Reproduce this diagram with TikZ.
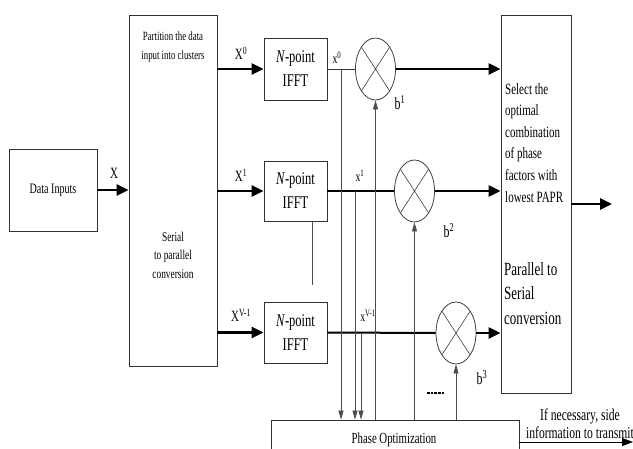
\documentclass[tikz,border=0pt]{standalone}
\usepackage{fontspec}
\setmainfont{Liberation Serif}[FakeStretch=0.7]
\usetikzlibrary{arrows.meta,shapes.geometric}
\begin{document}
\begin{tikzpicture}[x=1pt,y=-1pt,
  box/.style={draw=black!80, line width=0.8pt, inner sep=0pt},
  mult/.style={draw=black!75, line width=0.8pt, ellipse, minimum width=40pt, minimum height=62pt, inner sep=0pt,
    path picture={\draw[black!75,line width=0.6pt] (path picture bounding box.north west) -- (path picture bounding box.south east)
      (path picture bounding box.north east) -- (path picture bounding box.south west);}},
  thickarrow/.style={line width=2.8pt, -{Triangle[length=12pt,width=11pt]}},
  thinline/.style={draw=black!70, line width=0.7pt},
  thinarrow/.style={thinline, -{Triangle[length=9pt,width=5pt]}},
  lbl/.style={inner sep=0pt},
]
\clip (0,0) rectangle (633,448);
\fill[white] (0,0) rectangle (633,448);

% boxes
\node[box, minimum width=88pt, minimum height=82pt, font=\fontsize{14.4}{16}\selectfont] (data) at (53,190) {Data Inputs};
\node[box, minimum width=88pt, minimum height=351pt] (part) at (173,190.5) {};
\node[lbl, align=center, font=\fontsize{12.6}{19}\selectfont] (partt) at (173,47) {Partition the data\\input into clusters};
\node[lbl, align=center, font=\fontsize{13.4}{18.5}\selectfont] (sert) at (173,255) {Serial\\to parallel\\conversion};

\node[box, minimum width=63pt, minimum height=62pt, align=center, font=\fontsize{17.9}{24}\selectfont] (f1) at (295.5,69) {\textit{N}-point\\IFFT};
\node[box, minimum width=63pt, minimum height=60pt, align=center, font=\fontsize{17.9}{24}\selectfont] (f2) at (295.5,191) {\textit{N}-point\\IFFT};
\node[box, minimum width=63pt, minimum height=61pt, align=center, font=\fontsize{17.9}{24}\selectfont] (f3) at (295.5,332.5) {\textit{N}-point\\IFFT};

\node[mult] (m1) at (375.5,69) {};
\node[mult] (m2) at (414.5,191) {};
\node[mult] (m3) at (456,333) {};

\node[box, minimum width=70pt, minimum height=378pt] (sel) at (536,204) {};
\node[lbl, anchor=north west, align=left, font=\fontsize{15.7}{21.6}\selectfont] (selt) at (505,83) {Select the\\optimal\\combination\\of phase\\factors with\\lowest PAPR};
\node[lbl, anchor=north west, align=left, font=\fontsize{18.6}{24.5}\selectfont] (pst) at (504,262) {Parallel to\\Serial\\conversion};

\node[box, minimum width=248pt, minimum height=50pt] (ph) at (395,445) {};
\node[lbl, anchor=base, font=\fontsize{15.4}{18}\selectfont] (pht) at (394,443.5) {Phase Optimization};

% labels
\node[lbl, font=\fontsize{15.7}{18}\selectfont] (lx) at (114,173) {X};
\node[lbl, font=\fontsize{15.7}{18}\selectfont] (lx0) at (241,53) {X\textsuperscript{0}};
\node[lbl, font=\fontsize{15.7}{18}\selectfont] (lx1) at (241,175) {X\textsuperscript{1}};
\node[lbl, font=\fontsize{15.7}{18}\selectfont] (lx2) at (241,315) {X\textsuperscript{V-1}};
\node[lbl, font=\fontsize{14}{16}\selectfont] (sx0) at (337,58) {x\textsuperscript{0}};
\node[lbl, font=\fontsize{14}{16}\selectfont] (sx1) at (360,176) {x\textsuperscript{1}};
\node[lbl, font=\fontsize{14}{16}\selectfont] (sx2) at (368,316) {x\textsuperscript{V-1}};
\node[lbl, font=\fontsize{17}{18}\selectfont] (b1) at (400,103) {b\textsuperscript{1}};
\node[lbl, font=\fontsize{17}{18}\selectfont] (b2) at (449,231) {b\textsuperscript{2}};
\node[lbl, font=\fontsize{17}{18}\selectfont] (b3) at (482,378) {b\textsuperscript{3}};
\node[lbl, align=center, font=\fontsize{16.6}{18}\selectfont] (sidet) at (580,424) {If necessary, side\\information to transmit};

% thick arrows
\draw[thickarrow] (data.east) -- (data.east -| part.west);
\draw[thickarrow] (part.east |- f1) -- (f1.west);
\draw[thickarrow] (part.east |- f2) -- (f2.west);
\draw[thickarrow] (part.east |- f3) -- (f3.west);
\draw[thinline, draw=black!80] (f1.east) -- (m1.west);
\draw[line width=1.8pt] (f2.east) -- (m2.west);
\draw[line width=2pt] (f3.east) -- (m3.west);
\draw[thickarrow] (m1.east) -- (m1.east -| sel.west);
\draw[thickarrow, line width=2.3pt] (m2.east) -- (m2.east -| sel.west);
\draw[thickarrow] (m3.east) -- (m3.east -| sel.west);
\coordinate (out) at (612,204);
\draw[thickarrow] (sel.east |- out) -- (out);

% down arrows to phase optimization
\coordinate (d0) at (341,69);
\coordinate (d1) at (355,191);
\coordinate (d2) at (361,333);
\draw[thinarrow] (d0) -- (d0 |- ph.north);
\draw[thinarrow] (d1) -- (d1 |- ph.north);
\draw[thinarrow] (d2) -- (d2 |- ph.north);
% up arrows to multipliers
\draw[thinarrow] (m1.south |- ph.north) -- (m1.south);
\draw[thinarrow] (m2.south |- ph.north) -- (m2.south);
\draw[thinarrow] (m3.south |- ph.north) -- (m3.south);
% stray line
\coordinate (st) at (312,285);
\draw[thinline] (st |- f2.south) -- (st);
% dashes
\coordinate (da) at (427,393);
\coordinate (db) at (445,393);
\draw[line width=2pt, dash pattern=on 2.5pt off 1.2pt] (da) -- (db);
% side information
\coordinate (se) at (633,442);
\draw[line width=0.8pt, -{Triangle[length=11pt,width=8pt]}] (ph.east |- se) -- (se);
\end{tikzpicture}
\end{document}
